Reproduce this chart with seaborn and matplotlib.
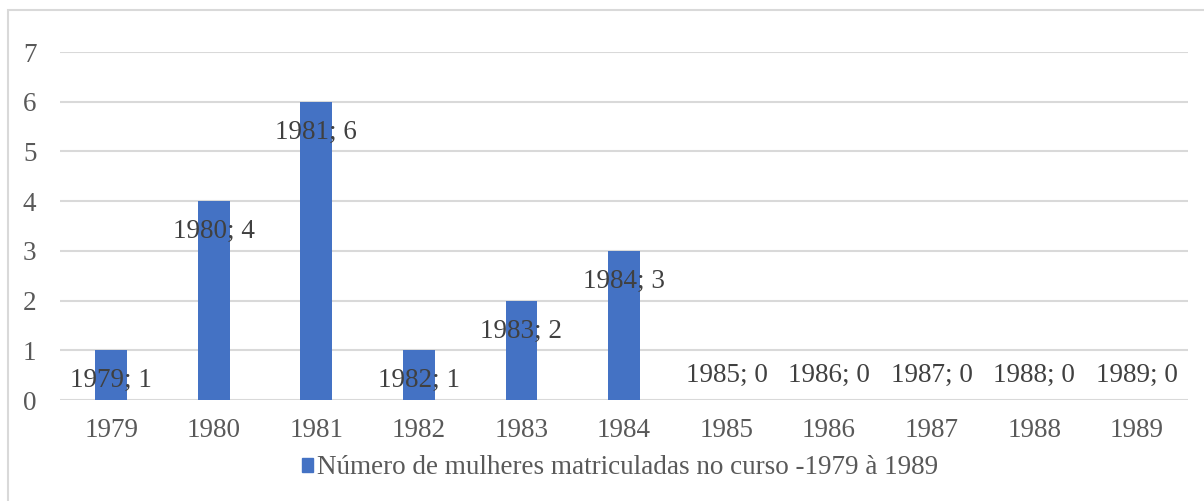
import matplotlib.pyplot as plt
import matplotlib.patches as mpatches
import seaborn as sns
import pandas as pd

# dados do grafico
anos = ['1979', '1980', '1981', '1982', '1983', '1984', '1985', '1986', '1987', '1988', '1989']
mulheres = [1, 4, 6, 1, 2, 3, 0, 0, 0, 0, 0]
serie = 'Número de mulheres matriculadas no curso -1979 à 1989'

df = pd.DataFrame({'ano': anos, 'n': mulheres})

sns.set_style('white')
plt.rcParams['font.family'] = ['Liberation Serif', 'DejaVu Serif']

azul = '#4472C4'
cinza_txt = '#595959'
cinza_lin = '#D9D9D9'
fs = 19.5

fig = plt.figure(figsize=(12.04, 5.01), dpi=100)
ax = fig.add_axes([60/1204, 101/501, 1128/1204, 348/501])

sns.barplot(data=df, x='ano', y='n', color=azul, width=0.31, saturation=1,
            linewidth=0, ax=ax)

ax.set_ylim(0, 7)
ax.set_yticks(range(0, 8))
ax.grid(axis='y', color=cinza_lin, linewidth=1.5)
ax.set_axisbelow(True)
for s in ax.spines.values():
    s.set_visible(False)
ax.set_xlabel('')
ax.set_ylabel('')
ax.tick_params(axis='y', length=0, pad=17, labelsize=fs, labelcolor=cinza_txt)
ax.tick_params(axis='x', length=0, pad=13, labelsize=fs, labelcolor=cinza_txt)

# rotulos "ano; valor"
for i, (a, v) in enumerate(zip(anos, mulheres)):
    off = -22 if v > 0 else 18
    ax.annotate(f'{a}; {v}', (i, v), xytext=(0, off), textcoords='offset points',
                ha='center', va='center', fontsize=fs, color='#404040')

handle = mpatches.Patch(color=azul, label=serie)
fig.legend(handles=[handle], loc='center', bbox_to_anchor=(620/1204, 1 - 468/501),
           frameon=False, fontsize=fs, handlelength=0.42, handleheight=0.42,
           handletextpad=0.15, labelcolor=cinza_txt)

# moldura do grafico
fig.patches.append(mpatches.Rectangle((8/1204, -0.1), 1.2, 1 - 10/501 + 0.1,
                                      transform=fig.transFigure, fill=False,
                                      edgecolor=cinza_lin, linewidth=1.5))

fig.savefig('out.png', dpi=100)
